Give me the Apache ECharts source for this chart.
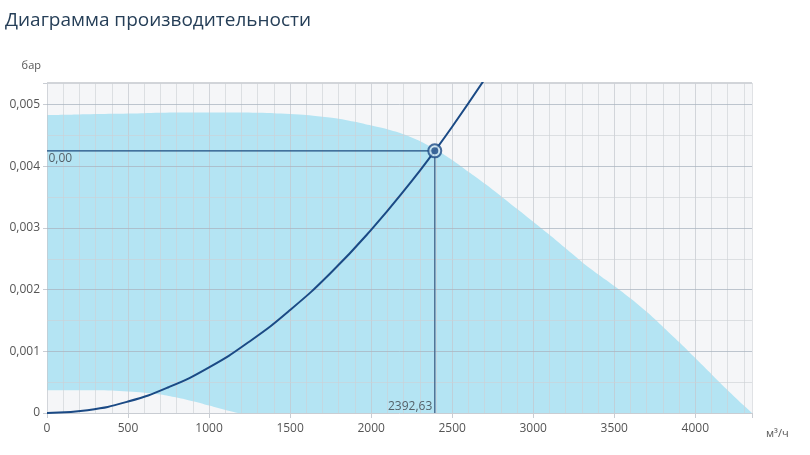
<!DOCTYPE html>
<html>
<head>
<meta charset="utf-8">
<script src="https://cdn.jsdelivr.net/npm/echarts@6/dist/echarts.min.js"></script>
<style>
html,body{margin:0;padding:0;background:#fff;}
#chart{width:810px;height:455px;}
</style>
</head>
<body>
<div id="chart"></div>
<script>
// Fan working range – upper boundary (x: m³/h, y: bar)
const upperX = [0, 200, 400, 600, 800, 1000, 1200, 1400, 1600, 1800, 1900, 2000, 2100, 2200, 2300, 2400, 2500, 2600, 2700, 2800, 2900, 3000, 3100, 3200, 3300, 3400, 3500, 3600, 3700, 3800, 3900, 4000, 4100, 4200, 4300, 4350];
const upperY = [0.00483, 0.00484, 0.00485, 0.00486, 0.00487, 0.00487, 0.00487, 0.00486, 0.00483, 0.00477, 0.00472, 0.00466, 0.00460, 0.00452, 0.00441, 0.00427, 0.00410, 0.00391, 0.00372, 0.00352, 0.00331, 0.00310, 0.00289, 0.00267, 0.00245, 0.00225, 0.00206, 0.00186, 0.00164, 0.00140, 0.00115, 0.00089, 0.00063, 0.00037, 0.00012, 0];
// Lower boundary of the working range
const lowerX = [0, 300, 500, 600, 700, 800, 900, 1000, 1100, 1180];
const lowerY = [0.00037, 0.00037, 0.00035, 0.00033, 0.00030, 0.00025, 0.00019, 0.00012, 0.00005, 0];
// System (network) curve
const sysX = [0, 250, 500, 750, 1000, 1250, 1500, 1750, 2000, 2250, 2392.63, 2500, 2700];
const sysY = [0, 0.000046, 0.000186, 0.000418, 0.00074, 0.00116, 0.00167, 0.00227, 0.00297, 0.00376, 0.00425, 0.00464, 0.00541];
// Operating point
const opX = 2392.63;
const opY = 0.00425;
// Axis settings
const xTicks = [0, 500, 1000, 1500, 2000, 2500, 3000, 3500, 4000];
const yTicks = [0, 0.001, 0.002, 0.003, 0.004, 0.005];
const X_MAX = 4350, X_MINOR = 100;
const Y_MAX = 0.00535, Y_MINOR = 0.0005;

const zip = (xs, ys) => xs.map((x, i) => [x, ys[i]]);
const comma = v => String(v).replace('.', ',');

const DARK = '#1b4a85';
const FONT = 'Open Sans';

// grid lines drawn on top of the filled range (as in the original)
const minorStyle = {color: 'rgba(205,208,213,0.62)', width: 1, type: 'solid'};
const majorXStyle = {color: 'rgba(195,199,205,0.7)', width: 1, type: 'solid'};
const majorYStyle = {color: 'rgba(170,180,192,0.75)', width: 1, type: 'solid'};
const gridLines = [];
for (let i = 0; i * X_MINOR <= X_MAX; i++) {
  const v = i * X_MINOR;
  gridLines.push([{coord: [v, 0], lineStyle: (v % 500 === 0) ? majorXStyle : minorStyle}, {coord: [v, Y_MAX]}]);
}
gridLines.push([{coord: [X_MAX, 0], lineStyle: minorStyle}, {coord: [X_MAX, Y_MAX]}]);
for (let i = 1; i * Y_MINOR < Y_MAX - 1e-9; i++) {
  const v = +(i * Y_MINOR).toFixed(6);
  gridLines.push([{coord: [0, v], lineStyle: (i % 2 === 0) ? majorYStyle : minorStyle}, {coord: [X_MAX, v]}]);
}
gridLines.push([{coord: [0, Y_MAX], lineStyle: {color: 'rgba(205,208,213,0.9)', width: 2, type: 'solid'}}, {coord: [X_MAX, Y_MAX]}]);

const chart = echarts.init(document.getElementById('chart'), null, {renderer: 'canvas'});
chart.setOption({
  animation: false,
  backgroundColor: '#ffffff',
  title: {
    text: 'Диаграмма производительности',
    left: 0, top: 6,
    textStyle: {fontSize: 19, fontWeight: 'normal', color: '#263f58', fontFamily: FONT}
  },
  grid: {
    left: 47, right: 58, top: 83, bottom: 42,
    show: true, backgroundColor: '#f5f6f8', borderWidth: 0
  },
  xAxis: {
    type: 'value', min: 0, max: X_MAX, interval: 500,
    name: 'м³/ч', nameLocation: 'end', nameGap: 14,
    nameTextStyle: {color: '#555', fontSize: 11, fontFamily: FONT, verticalAlign: 'top', padding: [15, 0, 0, 0]},
    axisLine: {show: true, lineStyle: {color: '#c9cdd3', width: 1}},
    axisTick: {show: true, length: 5, lineStyle: {color: '#c9cdd3'}},
    axisLabel: {
      color: '#555', fontSize: 12, fontFamily: FONT, margin: 10,
      formatter: v => (xTicks.indexOf(v) >= 0 ? String(v) : '')
    },
    splitLine: {show: false}
  },
  yAxis: {
    type: 'value', min: 0, max: Y_MAX, interval: 0.001,
    name: 'бар', nameLocation: 'end', nameGap: 12,
    nameTextStyle: {color: '#555', fontSize: 11, fontFamily: FONT, align: 'right', padding: [0, 6, 0, 0]},
    axisLine: {show: false},
    axisTick: {show: true, length: 4, lineStyle: {color: '#c9cdd3'}},
    axisLabel: {
      color: '#555', fontSize: 12, fontFamily: FONT, margin: 7,
      formatter: v => {
        const t = yTicks.find(k => Math.abs(k - v) < 1e-9);
        return t === undefined ? '' : comma(t);
      }
    },
    splitLine: {show: false}
  },
  series: [
    {
      name: 'range', type: 'line', z: 1,
      data: zip(upperX, upperY), smooth: 0.2, showSymbol: false, symbol: 'none',
      lineStyle: {width: 0}, areaStyle: {color: '#b4e4f3', opacity: 1}, silent: true
    },
    {
      name: 'rangeLow', type: 'line', z: 2,
      data: zip(lowerX, lowerY), smooth: 0.4, showSymbol: false, symbol: 'none',
      lineStyle: {width: 0}, areaStyle: {color: '#f5f6f8', opacity: 1}, silent: true,
      markLine: {
        z: 3, silent: true, animation: false, symbol: ['none', 'none'],
        label: {show: false}, emphasis: {disabled: true},
        data: gridLines
      }
    },
    {
      name: 'system', type: 'line', z: 10,
      data: zip(sysX, sysY), smooth: true, showSymbol: false, symbol: 'none',
      lineStyle: {color: DARK, width: 2}
    },
    {
      name: 'hLine', type: 'line', z: 9,
      data: [[0, opY], [opX, opY]], showSymbol: false, symbol: 'none',
      lineStyle: {color: '#1d4d80', width: 1.3}
    },
    {
      name: 'vLine', type: 'line', z: 9,
      data: [[opX, opY], [opX, 0]], showSymbol: false, symbol: 'none',
      lineStyle: {color: '#4f7296', width: 1.5}
    },
    {
      name: 'labels', type: 'scatter', z: 11, symbolSize: 1,
      itemStyle: {color: 'rgba(0,0,0,0)'},
      data: [
        {value: [0, opY], label: {show: true, position: [2, 2], align: 'left', verticalAlign: 'top',
          formatter: p => p.value[1].toFixed(2).replace('.', ',')}},
        {value: [opX, 0], label: {show: true, position: 'left', distance: 2, offset: [0, -6],
          formatter: p => p.value[0].toFixed(2).replace('.', ',')}}
      ],
      label: {color: '#3a3f45', fontSize: 12, fontFamily: FONT}
    },
    {
      name: 'pointRing', type: 'scatter', z: 12, symbol: 'circle', symbolSize: 13,
      data: [[opX, opY]],
      itemStyle: {color: '#cbe4f0', borderColor: DARK, borderWidth: 2}
    },
    {
      name: 'pointCore', type: 'scatter', z: 13, symbol: 'circle', symbolSize: 7,
      data: [[opX, opY]],
      itemStyle: {color: DARK}
    }
  ]
});
</script>
</body>
</html>
